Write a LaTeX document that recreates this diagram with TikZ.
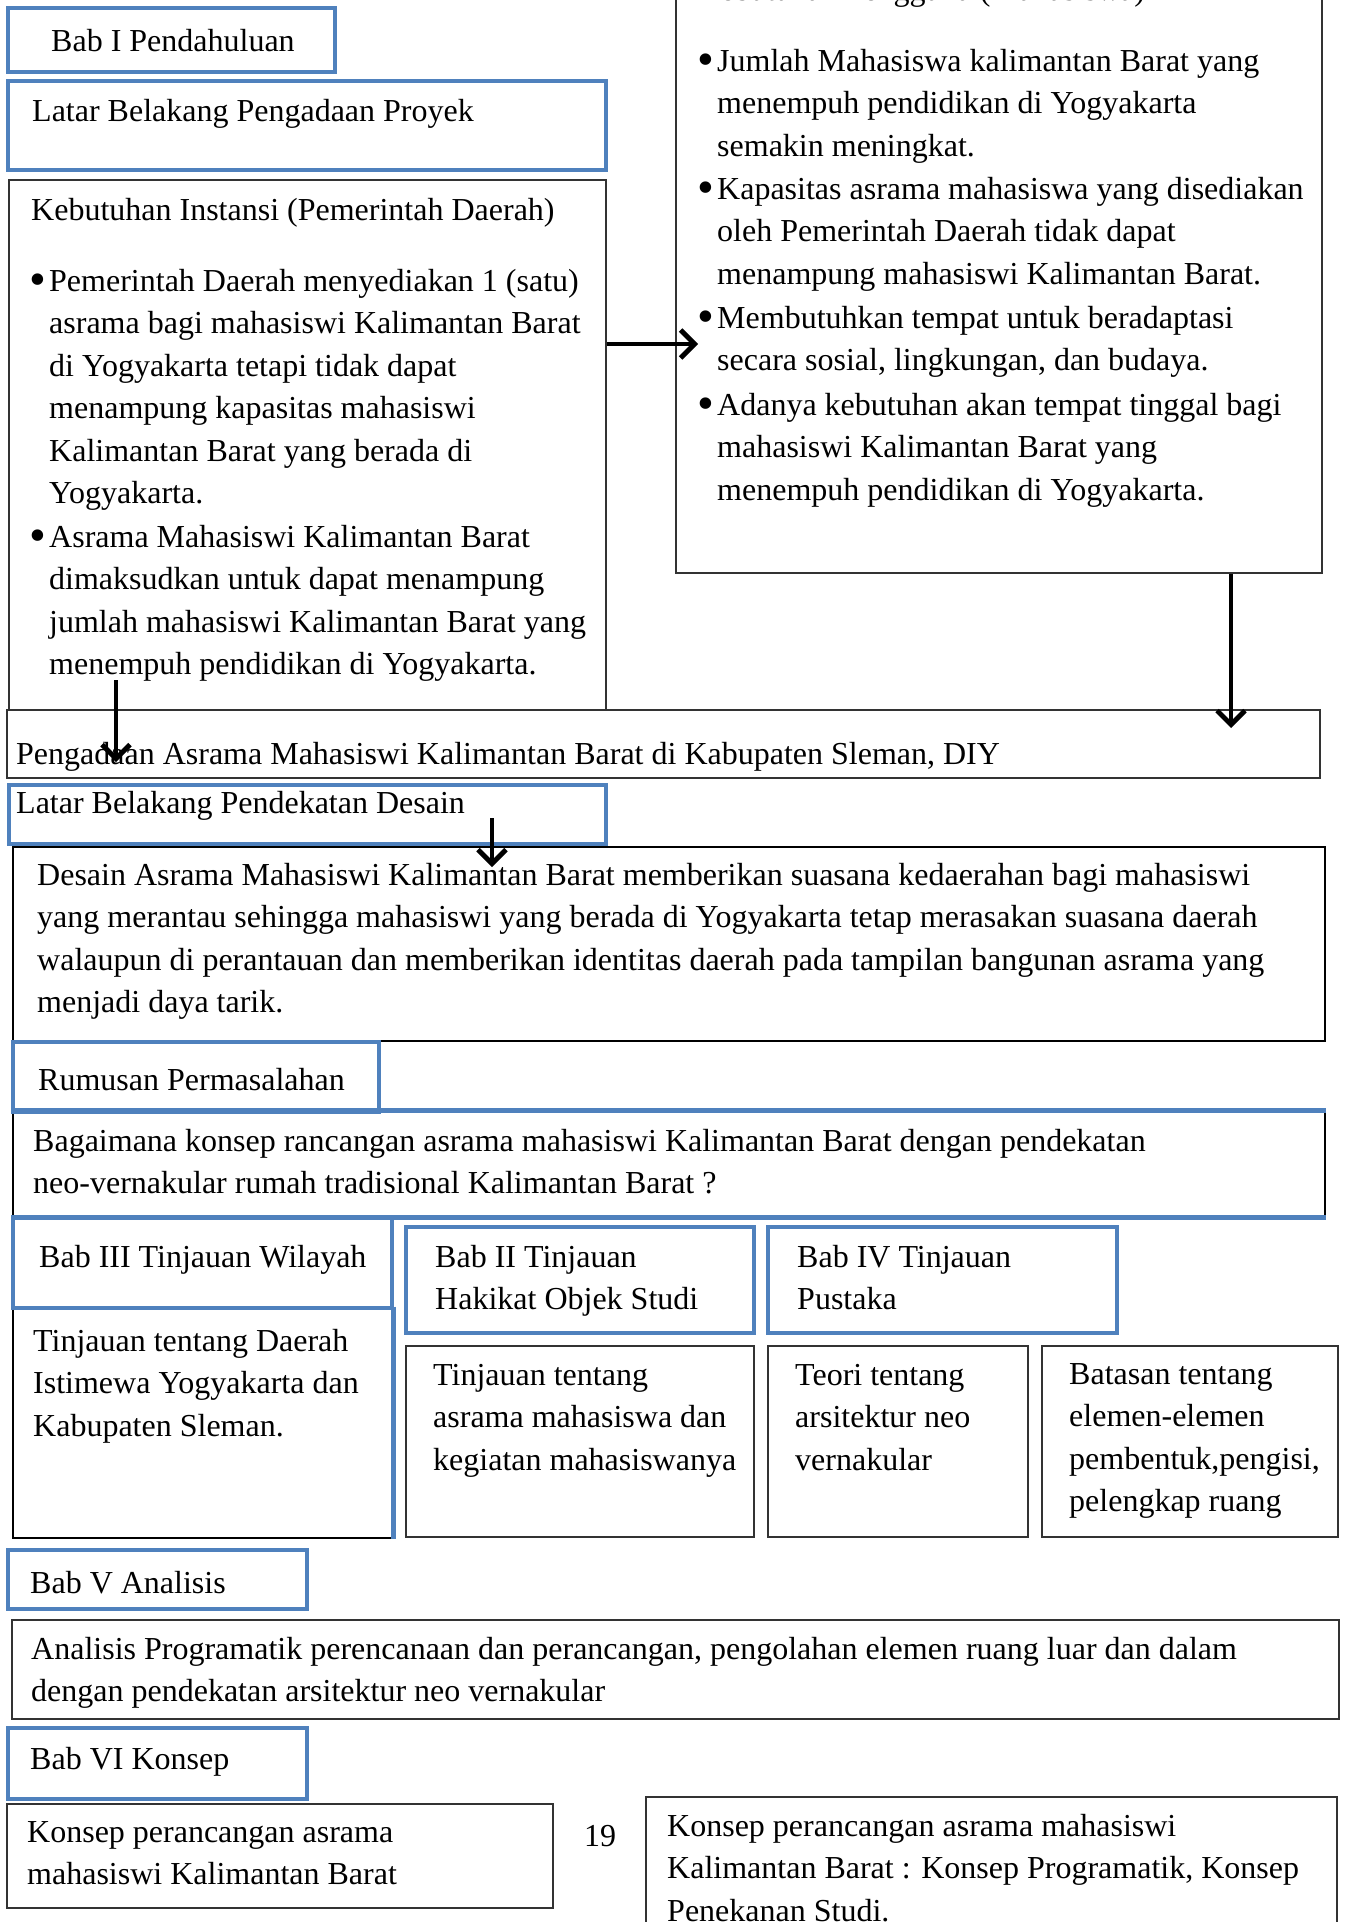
\documentclass[tikz,border=0pt]{standalone}
\usepackage{fontspec}
\setmainfont{Liberation Serif}
\usetikzlibrary{fit,arrows.meta}
\definecolor{accent}{HTML}{4F81BD}
\newcommand\fs{\fontsize{32}{42.5}\selectfont}
\newcommand\bul{\strut\llap{\raisebox{-4pt}{\fontsize{48}{48}\selectfont\textbullet}\hspace{3pt}}}
\tikzset{
  bluebox/.style={draw=accent, line width=4.5pt, inner sep=0pt},
  thinbox/.style={draw=black!80, line width=1.8pt, inner sep=0pt},
  thickbox/.style={draw=black, line width=2.8pt, inner sep=0pt},
  blueline/.style={draw=accent, line width=4.5pt},
  txt/.style={anchor=north west, inner sep=0pt, align=left, font=\fs, yshift=29.75pt, execute at begin node=\strut},
  arr/.style={line width=4.8pt, -{Straight Barb[length=14pt,width=28pt]}},
}
\begin{document}
\begin{tikzpicture}[x=1pt,y=-1pt]
\useasboundingbox (0,0) rectangle (1344,1922);
\clip (0,0) rectangle (1344,1922);
\fill[white] (0,0) rectangle (1344,1922);

% ---------- Bab I ----------
\node[bluebox, fit={(8,8) (335,72)}] (babI) {};
\node[txt] (babIt) at (51,51) {Bab I Pendahuluan};
\node[bluebox, fit={(8,81) (606,170)}] (latarP) {};
\node[txt] (latarPt) at (32,121) {Latar Belakang Pengadaan Proyek};

% ---------- left box ----------
\node[thinbox, fit={(9,180) (606,710)}] (kebutuhan) {};
\node[txt] (kebH) at (31,220) {Kebutuhan Instansi (Pemerintah Daerah)};
\node[txt] (kebB1) at (49,291) {\bul Pemerintah Daerah menyediakan 1 (satu)\\asrama bagi mahasiswi Kalimantan Barat\\di Yogyakarta tetapi tidak dapat\\menampung kapasitas mahasiswi\\Kalimantan Barat yang berada di\\Yogyakarta.};
\node[txt] (kebB2) at (49,547) {\bul Asrama Mahasiswi Kalimantan Barat\\dimaksudkan untuk dapat menampung\\jumlah mahasiswi Kalimantan Barat yang\\menempuh pendidikan di Yogyakarta.};

% ---------- right box ----------
\node[thinbox, fit={(676,-10) (1322,573)}] (pengguna) {};
\node[txt] (pengH) at (697,0) {Kebutuhan Pengguna (Mahasiswa)};
\node[txt] (pengB1) at (717,71) {\bul Jumlah Mahasiswa kalimantan Barat yang\\menempuh pendidikan di Yogyakarta\\semakin meningkat.};
\node[txt] (pengB2) at (717,199) {\bul Kapasitas asrama mahasiswa yang disediakan\\oleh Pemerintah Daerah tidak dapat\\menampung mahasiswi Kalimantan Barat.};
\node[txt] (pengB3) at (717,328) {\bul Membutuhkan tempat untuk beradaptasi\\secara sosial, lingkungan, dan budaya.};
\node[txt] (pengB4) at (717,415) {\bul Adanya kebutuhan akan tempat tinggal bagi\\mahasiswi Kalimantan Barat yang\\menempuh pendidikan di Yogyakarta.};

% ---------- Pengadaan ----------
\node[thinbox, fit={(7,710) (1320,778)}] (pengadaan) {};
\node[txt] (pengadaant) at (16,764) {Pengadaan Asrama Mahasiswi Kalimantan Barat di Kabupaten Sleman, DIY};

% ---------- Pendekatan desain ----------
\node[bluebox, fit={(9,785) (606,844)}] (latarD) {};
\node[txt] (latarDt) at (16,813) {Latar Belakang Pendekatan Desain};
\node[thickbox, fit={(13,847) (1325,1041)}] (desain) {};
\node[txt] (desaint) at (37,885) {\strut Desain Asrama Mahasiswi Kalimantan Barat memberikan suasana kedaerahan bagi mahasiswi\\yang merantau sehingga mahasiswi yang berada di Yogyakarta tetap merasakan suasana daerah\\walaupun di perantauan dan memberikan identitas daerah pada tampilan bangunan asrama yang\\menjadi daya tarik.};

% ---------- Rumusan ----------
\node[thickbox, fit={(13,1112) (1325,1216)}] (bagaimana) {};
\draw[blueline] (bagaimana.north west) -- (bagaimana.north east);
\draw[blueline] (bagaimana.south west) -- (bagaimana.south east);
\node[bluebox, fit={(13,1042) (379,1112)}] (rumusan) {};
\node[txt] (rumusant) at (38,1090) {Rumusan Permasalahan};
\node[txt] (bagaimanat) at (33,1151) {\strut Bagaimana konsep rancangan asrama mahasiswi Kalimantan Barat dengan pendekatan\\neo-vernakular rumah tradisional Kalimantan Barat ?};

% ---------- Bab III / II / IV ----------
\node[thickbox, fit={(13,1308) (392,1538)}] (daerah) {};
\draw[blueline] (daerah.north east) -- (daerah.south east);
\node[bluebox, fit={(13,1217) (392,1308)}] (babIII) {};
\node[txt] (babIIIt) at (39,1267) {Bab III Tinjauan Wilayah};
\node[txt] (daeraht) at (33,1351) {\strut Tinjauan tentang Daerah\\Istimewa Yogyakarta dan\\Kabupaten Sleman.};

\node[bluebox, fit={(406,1227) (754,1333)}] (babII) {};
\node[txt] (babIIt) at (435,1267) {\strut Bab II Tinjauan\\Hakikat Objek Studi};
\node[bluebox, fit={(768,1227) (1117,1333)}] (babIV) {};
\node[txt] (babIVt) at (797,1267) {\strut Bab IV Tinjauan\\Pustaka};

\node[thinbox, fit={(406,1346) (754,1537)}] (asrama) {};
\node[txt] (asramat) at (433,1385) {\strut Tinjauan tentang\\asrama mahasiswa dan\\kegiatan mahasiswanya};
\node[thinbox, fit={(768,1346) (1028,1537)}] (teori) {};
\node[txt] (teorit) at (795,1385) {\strut Teori tentang\\arsitektur neo\\vernakular};
\node[thinbox, fit={(1042,1346) (1338,1537)}] (batasan) {};
\node[txt] (batasant) at (1069,1384) {\strut Batasan tentang\\elemen-elemen\\pembentuk,pengisi,\\pelengkap ruang};

% ---------- Bab V ----------
\node[bluebox, fit={(8,1550) (307,1609)}] (babV) {};
\node[txt] (babVt) at (30,1593) {Bab V Analisis};
\node[thinbox, fit={(12,1620) (1339,1719)}] (analisis) {};
\node[txt] (analisist) at (31,1659) {\strut Analisis Programatik perencanaan dan perancangan, pengolahan elemen ruang luar dan dalam\\dengan pendekatan arsitektur neo vernakular};

% ---------- Bab VI ----------
\node[bluebox, fit={(8,1728) (307,1799)}] (babVI) {};
\node[txt] (babVIt) at (30,1769) {Bab VI Konsep};
\node[thinbox, fit={(7,1804) (553,1908)}] (konsep1) {};
\node[txt] (konsep1t) at (27,1842) {\strut Konsep perancangan asrama\\mahasiswi Kalimantan Barat};
\node[txt] (pagenum) at (584,1846) {19};
\node[thinbox, fit={(646,1797) (1337,1960)}] (konsep2) {};
\node[txt] (konsep2t) at (667,1836) {\strut Konsep perancangan asrama mahasiswi\\Kalimantan Barat : Konsep Programatik, Konsep\\Penekanan Studi.};

% ---------- arrows ----------
\coordinate (tipE) at (698,344);
\draw[arr] (kebutuhan.east |- tipE) -- (tipE);
\coordinate (tipF) at (1231,728);
\draw[arr] (pengguna.south -| tipF) -- (tipF);
\coordinate (startG) at (116,680);
\coordinate (tipG) at (116,762);
\draw[arr] (startG) -- (tipG);
\coordinate (startJ) at (492,818);
\coordinate (tipJ) at (492,867);
\draw[arr] (startJ) -- (tipJ);
\end{tikzpicture}
\end{document}
